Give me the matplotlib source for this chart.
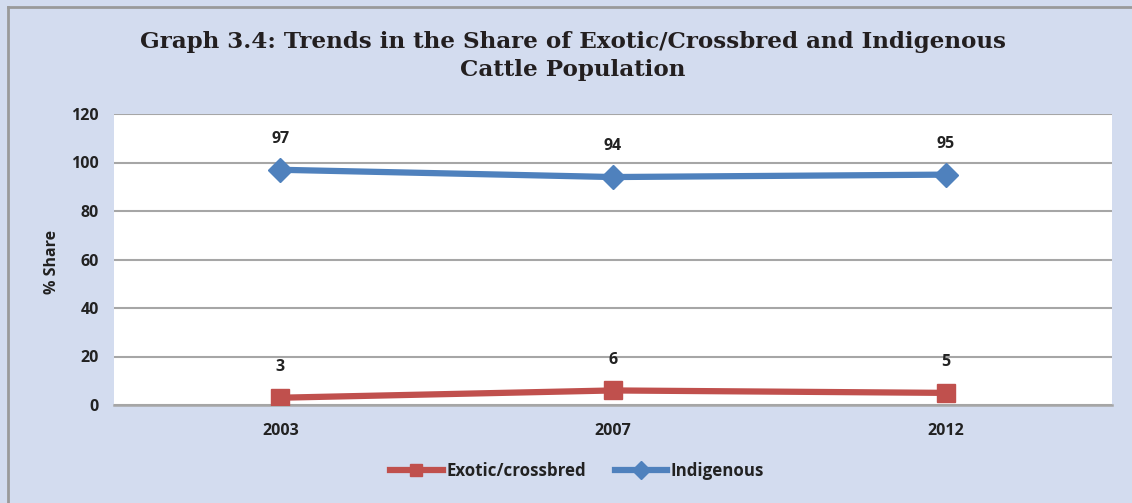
import matplotlib.pyplot as plt
from matplotlib.lines import Line2D

# data
years = ['2003', '2007', '2012']
exotic = [3, 6, 5]
indigenous = [97, 94, 95]
y_ticks = [0, 20, 40, 60, 80, 100, 120]

RED = '#c0504d'
BLUE = '#4f81bd'
TXT = '#222222'
LBL_FONT = ['Open Sans', 'DejaVu Sans']

fig = plt.figure(figsize=(11.32, 5.03), dpi=100)
fig.patch.set_facecolor('#d3dcef')

# outer chart frame (only top and left edges are visible in the reference)
fx, fy = 8 / 1132, 1 - 7 / 503
fig.add_artist(Line2D([fx, fx], [0, fy], transform=fig.transFigure,
                      color='#9a9a9a', linewidth=2))
fig.add_artist(Line2D([fx, 1], [fy, fy], transform=fig.transFigure,
                      color='#9a9a9a', linewidth=2))

ax = fig.add_axes([114 / 1132, 1 - 405 / 503, (1112 - 114) / 1132, (405 - 114) / 503])
ax.set_facecolor('white')

x = range(len(years))
ax.plot(x, exotic, color=RED, linewidth=4.5, marker='s', markersize=13,
        label='Exotic/crossbred', zorder=3)
ax.plot(x, indigenous, color=BLUE, linewidth=4.5, marker='D', markersize=12,
        label='Indigenous', zorder=3)

# data labels above points
for xi, v in zip(x, exotic):
    ax.annotate(str(v), (xi, v), xytext=(0, 22), textcoords='offset points',
                ha='center', va='center', fontsize=11.5, fontweight='bold',
                color=TXT, family=LBL_FONT)
for xi, v in zip(x, indigenous):
    ax.annotate(str(v), (xi, v), xytext=(0, 22), textcoords='offset points',
                ha='center', va='center', fontsize=11.5, fontweight='bold',
                color=TXT, family=LBL_FONT)

ax.set_xlim(-0.5, len(years) - 0.5)
ax.set_ylim(0, 120)
ax.set_yticks(y_ticks)
ax.set_xticks(list(x))
ax.set_xticklabels(years)
ax.grid(axis='y', color='#a6a6a6', linewidth=1.5)
ax.set_axisbelow(True)
for s in ['top', 'right', 'left']:
    ax.spines[s].set_visible(False)
ax.spines['bottom'].set_color('#a6a6a6')
ax.spines['bottom'].set_linewidth(1.8)
ax.tick_params(length=0, pad=11)
ax.tick_params(axis='x', pad=13)
for lab in ax.get_xticklabels() + ax.get_yticklabels():
    lab.set_family(LBL_FONT)
    lab.set_fontweight('bold')
    lab.set_fontsize(11.5)
    lab.set_color(TXT)

fig.text(52 / 1132, 1 - 262 / 503, '% Share', rotation=90, ha='center', va='center',
         fontsize=11.5, fontweight='bold', color=TXT, family=LBL_FONT)

fig.text(573 / 1132, 1 - 56 / 503,
         'Graph 3.4: Trends in the Share of Exotic/Crossbred and Indigenous\nCattle Population',
         ha='center', va='center', fontsize=16.6, fontweight='bold', color='#231f20',
         family=['DejaVu Serif'], linespacing=1.3)

leg = fig.legend(loc='center', bbox_to_anchor=(577 / 1132, 1 - 471 / 503), ncol=2,
                 frameon=False, handlelength=3.1, columnspacing=1.7, handletextpad=0.2,
                 prop={'family': LBL_FONT, 'weight': 'bold', 'size': 12.2})
for t in leg.get_texts():
    t.set_color(TXT)
for h in leg.legend_handles:
    h.set_markersize(9)

fig.savefig('out.png', dpi=100, facecolor=fig.get_facecolor())
